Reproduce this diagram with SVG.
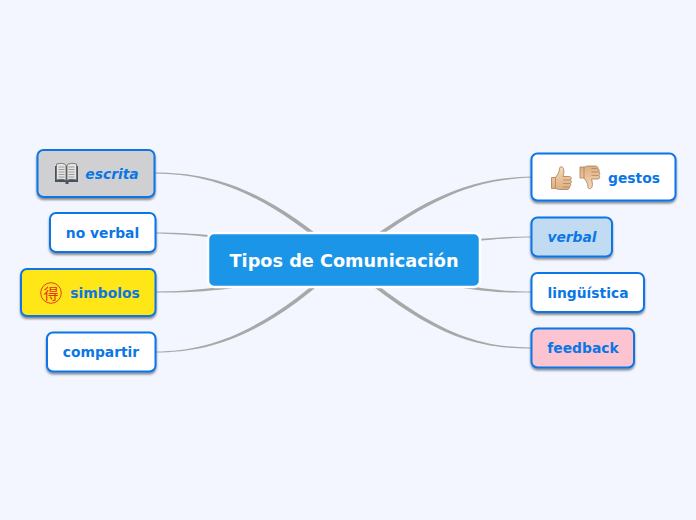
<svg xmlns="http://www.w3.org/2000/svg" width="696" height="520" viewBox="0 0 696 520">
<style>
.n{stroke:#0b76e6;stroke-width:2;filter:url(#sh)}
.t{font-family:"DejaVu Sans",sans-serif;font-weight:700;font-size:13.850px;fill:#0b76e6;text-anchor:middle}
.i{font-style:italic}
.c{fill:#a8a8a8;stroke:none}
</style>
<defs>
<filter id="sh" x="-10%" y="-15%" width="120%" height="135%"><feDropShadow dx="0" dy="2" stdDeviation="1.2" flood-color="#000" flood-opacity=".45"/></filter>
<linearGradient id="sk" x1="0" y1="0" x2="0" y2="1"><stop offset="0" stop-color="#f6d9b8"/><stop offset="1" stop-color="#dcae82"/></linearGradient>
<g id="thumb">
<path d="M-9 -1 L-5 -1 C-3 -4 -1 -6 -1 -10 C-1 -12 2 -12.500 3 -10 C4 -7 3 -4 2.500 -2 L9 -2 C11 -2 11 1 10 1.500 C11 2.500 11 4.500 10 5 C10.500 6.500 10 8 9 8.500 C9 10 8 11 6.500 11 L-1 11 C-3 11 -4 10 -5 10 L-9 10 Z" fill="url(#sk)" stroke="#a97c55" stroke-width=".8"/>
<path d="M2.500 1.500H9.500M2.500 5H9.500M2.500 8.500H8.500M-5 -1V10" fill="none" stroke="#a97c55" stroke-width=".7"/>
</g>
</defs>
<rect width="696" height="520" fill="#f3f6ff"/>
<g id="connectors">
<path class="c" d="M155 172.500C215 172.500 268 190 344 257L344 262C268 195 215 174 155 173.500Z"/>
<path class="c" d="M155 232.500C190 232.500 250 236 344 258L344 262C250 239 190 234 155 233.500Z"/>
<path class="c" d="M155 291.500C185 291.500 215 288 240 284L240 287C215 291 185 293 155 292.500Z"/>
<path class="c" d="M155 351.500C215 351.500 268 328 344 258L344 263C268 333 215 352.500 155 352.500Z"/>
<path class="c" d="M531 176.500C471 178 426 195 344 258L344 263C426 199 471 180 531 177.500Z"/>
<path class="c" d="M531 236.500C496 236.500 438 241 344 258L344 262C438 244 496 238 531 237.500Z"/>
<path class="c" d="M531 291.500C505 291.500 485 289 450 283L450 286C485 292 505 293 531 292.500Z"/>
<path class="c" d="M531 347.500C471 347.500 426 327 344 258L344 263C426 332 471 349 531 348.500Z"/>
</g>
<g id="center">
<rect x="208" y="233" width="272" height="54" rx="6" fill="#1a95e8" stroke="#fff" stroke-width="2.500"/>
<text x="344" y="267" style="font-family:'DejaVu Sans',sans-serif;font-weight:700;font-size:17.700px;fill:#fff;text-anchor:middle">Tipos de Comunicación</text>
</g>
<g id="escrita">
<rect class="n" x="37.500" y="150" width="117" height="47" rx="6" fill="#d0d0d2"/>
<path d="M55 166V182H65.500V184H68.500V182H78V166Z" fill="#44535f"/>
<path d="M56.500 164C60 163 64 163 66 165V180.500C64 179 60 179 56.500 180Z" fill="#e4e4e2" stroke="#666" stroke-width=".8"/>
<path d="M76.500 164C73 163 69 163 67 165V180.500C69 179 73 179 76.500 180Z" fill="#e4e4e2" stroke="#666" stroke-width=".8"/>
<path d="M58.500 167H64.500M58.500 169.500H64.500M58.500 172H64.500M58.500 174.500H64.500M58.500 177H64.500M68.500 167H74.500M68.500 169.500H74.500M68.500 172H74.500M68.500 174.500H74.500M68.500 177H74.500" stroke="#8a8a8a" stroke-width=".8"/>
<text class="t i" x="112" y="179">escrita</text>
</g>
<g id="no-verbal">
<rect class="n" x="50" y="213" width="105.500" height="39" rx="6" fill="#fff"/>
<text class="t" x="102.500" y="238">no verbal</text>
</g>
<g id="simbolos">
<rect class="n" x="21" y="269" width="134.500" height="47" rx="6" fill="#ffe612"/>
<circle cx="51" cy="293" r="10.300" fill="none" stroke="#e8401a" stroke-width="1"/>
<text x="51" y="298.500" style="font-family:'Noto Sans CJK SC',sans-serif;font-size:15px;fill:#e8301a;text-anchor:middle">得</text>
<text class="t" x="105" y="298">simbolos</text>
</g>
<g id="compartir">
<rect class="n" x="47" y="332.500" width="108.500" height="39" rx="6" fill="#fff"/>
<text class="t" x="101" y="357">compartir</text>
</g>
<g id="gestos">
<rect class="n" x="531.500" y="153.500" width="144" height="47" rx="6" fill="#fff"/>
<use href="#thumb" x="560.500" y="178.500"/>
<use href="#thumb" transform="translate(589 177) scale(1 -1)"/>
<text class="t" x="634" y="183">gestos</text>
</g>
<g id="verbal">
<rect class="n" x="531.500" y="217.500" width="80.500" height="39" rx="6" fill="#c1dcf2"/>
<text class="t i" x="572" y="242">verbal</text>
</g>
<g id="linguistica">
<rect class="n" x="531.500" y="273" width="112.500" height="39" rx="6" fill="#fff"/>
<text class="t" x="588" y="298">lingüística</text>
</g>
<g id="feedback">
<rect class="n" x="531.500" y="328.500" width="102.500" height="39" rx="6" fill="#fbc4d0"/>
<text class="t" x="583" y="353">feedback</text>
</g>
</svg>
